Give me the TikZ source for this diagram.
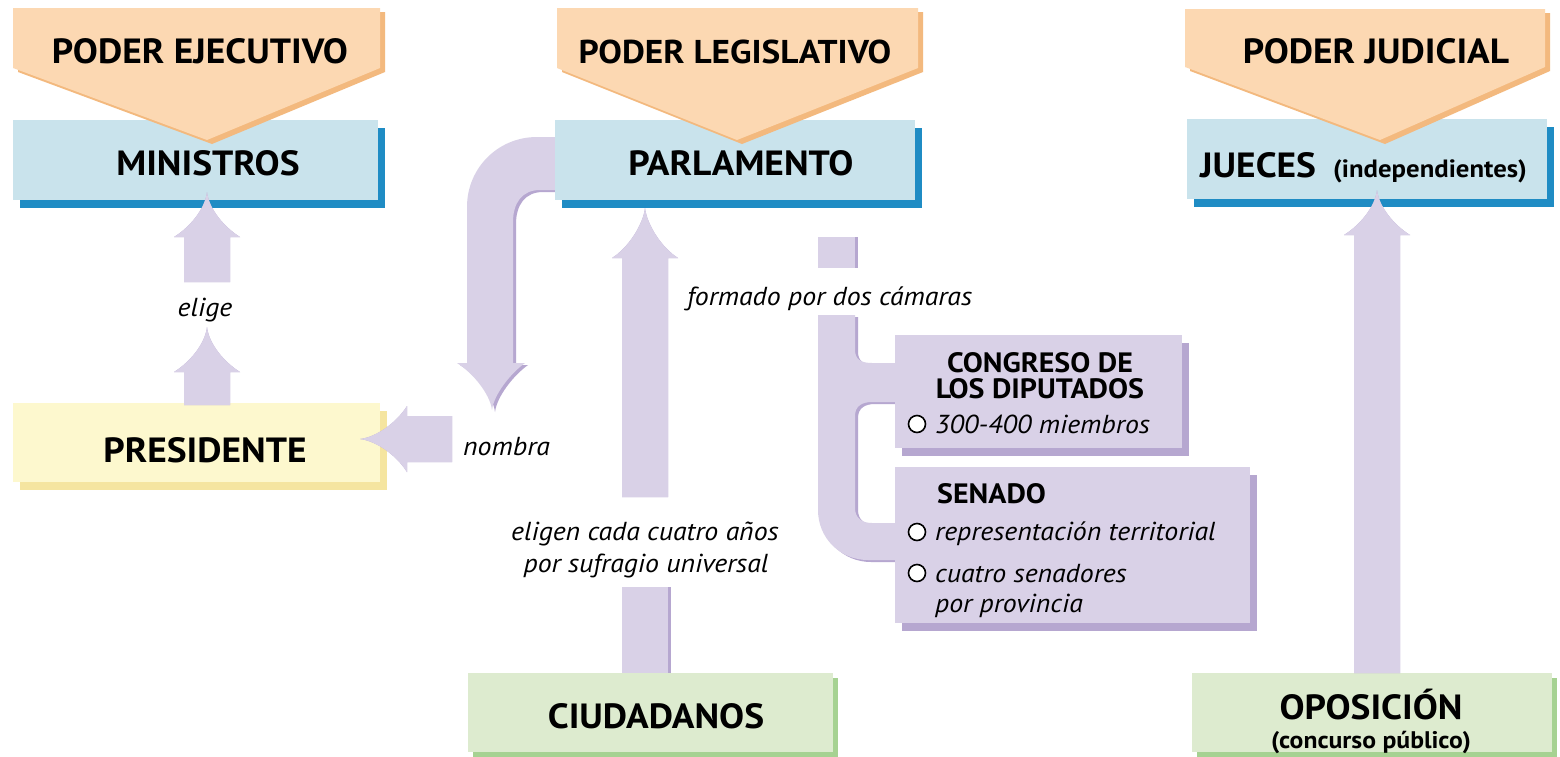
\documentclass[tikz,border=0pt]{standalone}
\usepackage{fontspec}
\setmainfont{PT Sans}
\newfontfamily\cf{PT Sans}[FakeStretch=1.07]
\newfontfamily\ci{PT Sans}[FakeStretch=1.07]
\usetikzlibrary{shadows}
\definecolor{hdrF}{HTML}{FCD8B2}
\definecolor{hdrS}{HTML}{F3B97E}
\definecolor{blueF}{HTML}{C9E3EC}
\definecolor{blueS}{HTML}{1F8CC4}
\definecolor{yelF}{HTML}{FDF8CE}
\definecolor{yelS}{HTML}{F5E5A0}
\definecolor{grnF}{HTML}{DDEBCF}
\definecolor{grnS}{HTML}{A6D292}
\definecolor{purF}{HTML}{D9D1E7}
\definecolor{purS}{HTML}{B6A7D0}
\newcommand\arrshape[2]{(-23,0) -- (-23,-#1+#2) -- (-33,-#1+#2) .. controls (-17,-#1+#2-10) and (-2,-#1+17) .. (0,-#1) .. controls (2,-#1+17) and (17,-#1+#2-10) .. (33,-#1+#2) -- (23,-#1+#2) -- (23,0) -- cycle}
\newcommand\fatarrow[3]{%
  \begin{scope}[xshift=3pt,yshift=-2pt]\begin{scope}[#1]\fill[purS] \arrshape{#2}{#3};\end{scope}\end{scope}
  \begin{scope}[#1]\fill[purF] \arrshape{#2}{#3};\end{scope}}
\begin{document}
\begin{tikzpicture}[x=1pt,y=-1pt,
  box/.style={anchor=north west, inner sep=0pt},
  bluebox/.style={box, fill=blueF, drop shadow={shadow xshift=7pt, shadow yshift=-8pt, fill=blueS, opacity=1}},
  yelbox/.style={box, fill=yelF, drop shadow={shadow xshift=7pt, shadow yshift=-8pt, fill=yelS, opacity=1}},
  grnbox/.style={box, fill=grnF, drop shadow={shadow xshift=5pt, shadow yshift=-5pt, fill=grnS, opacity=1}},
  purbox/.style={box, fill=purF, drop shadow={shadow xshift=7pt, shadow yshift=-8pt, fill=purS, opacity=1}},
  hdr/.style={fill=hdrF},
  hdrsh/.style={fill=hdrS},
  bigtxt/.style={anchor=base, inner sep=0pt, font=\cf\bfseries\fontsize{35}{40}\selectfont},
  midtxt/.style={anchor=base, inner sep=0pt, font=\cf\bfseries\fontsize{28}{30}\selectfont},
  smalltxt/.style={anchor=base, inner sep=0pt, font=\cf\bfseries\fontsize{25}{28}\selectfont},
  itxt/.style={anchor=base, inner sep=0pt, font=\ci\itshape\fontsize{26}{30}\selectfont},
  bullet/.style={draw=black, line width=1.6pt, fill=white}
]
\useasboundingbox (0,0) rectangle (1560,756);
\fill[white] (0,0) rectangle (1560,756);

% nombra band (behind Parlamento)
\def\nombraband{(570,137) -- (537,137) .. controls (498,137) and (467,168) .. (467,207) -- (467,363) -- (457,363) .. controls (473,373) and (490,394) .. (492,410) .. controls (494,394) and (511,373) .. (525,363) -- (513,363) -- (513,222) .. controls (513,203) and (522,190) .. (540,190) -- (570,190) -- cycle}
\fill[purS, xshift=3pt, yshift=-2pt] \nombraband;
\fill[purF] \nombraband;

% boxes
\node[bluebox, minimum width=365pt, minimum height=80pt] (min) at (13,120) {};
\node[bluebox, minimum width=360pt, minimum height=80pt] (par) at (555,120) {};
\node[bluebox, minimum width=360pt, minimum height=80pt] (jue) at (1187,119) {};
\node[yelbox, minimum width=367pt, minimum height=79pt] (pre) at (13,403) {};
\node[grnbox, minimum width=365pt, minimum height=79pt] (ciu) at (468,673) {};
\node[grnbox, minimum width=360pt, minimum height=79pt] (opo) at (1192,673) {};

% box texts
\node[bigtxt] (tmin) at (208,175) {MINISTROS};
\node[bigtxt] (tpar) at (741,175) {PARLAMENTO};
\node[bigtxt, anchor=base west] (tjue) at (1200,177) {JUECES};
\node[smalltxt, anchor=base west] (tind) at (1333,177) {(independientes)};
\node[bigtxt] (tpre) at (205,462) {PRESIDENTE};
\node[bigtxt] (tciu) at (656,728) {CIUDADANOS};
\node[bigtxt] (topo) at (1371,719) {OPOSICIÓN};
\node[smalltxt, font=\cf\bfseries\fontsize{24}{26}\selectfont] (tcon) at (1371,748) {(concurso público)};

% headers
\def\hEje{(13,8) -- (380,8) -- (380,68) -- (207,140) -- (13,68) -- cycle}
\def\hLeg{(557,8) -- (918,8) -- (918,68) -- (737,140) -- (557,68) -- cycle}
\def\hJud{(1185,9) -- (1545,9) -- (1545,67) -- (1380,140) -- (1185,67) -- cycle}
\fill[hdrsh, xshift=5pt, yshift=-4pt] \hEje;
\fill[hdr] \hEje;
\fill[hdrsh, xshift=5pt, yshift=-4pt] \hLeg;
\fill[hdr] \hLeg;
\fill[hdrsh, xshift=5pt, yshift=-4pt] \hJud;
\fill[hdr] \hJud;
\node[bigtxt] (heje) at (200,63) {PODER EJECUTIVO};
\node[bigtxt, font=\cf\bfseries\fontsize{33}{40}\selectfont] (hleg) at (735,63) {PODER LEGISLATIVO};
\node[bigtxt] (hjud) at (1376,63) {PODER JUDICIAL};

% fat arrows
\coordinate (a1) at (207,405);
\coordinate (a2) at (207,282);
\coordinate (a3) at (645,497);
\coordinate (a4) at (1377,673);
\coordinate (a5) at (452,439);
\fatarrow{shift={(a1)}}{78}{45}
\fatarrow{shift={(a2)}}{90}{45}
\fatarrow{shift={(a3)}}{289}{50}
\fatarrow{shift={(a4)}}{483}{45}
\fatarrow{shift={(a5)}, rotate=90}{92}{47}
\fill[purS] (625,587) rectangle (671,673);
\fill[purF] (622,587) rectangle (668,673);

% formado por dos camaras bar
\def\camband{(818,315) -- (855,315) -- (855,350) .. controls (855,360) and (862,363) .. (872,363) -- (900,363) -- (900,402) -- (872,402) .. controls (862,402) and (855,406) .. (855,416) -- (855,508) .. controls (855,518) and (862,523) .. (872,523) -- (900,523) -- (900,560) -- (868,560) .. controls (840,560) and (818,538) .. (818,510) -- cycle}
\fill[purS] (821,237) rectangle (858,268);
\fill[purF] (818,237) rectangle (855,268);
\fill[purS, xshift=3pt, yshift=-2pt] \camband;
\fill[purF] \camband;

\node[purbox, minimum width=287pt, minimum height=113pt] (cong) at (895,335) {};
\node[purbox, minimum width=355pt, minimum height=156pt] (sen) at (895,467) {};

\node[midtxt] (tc1) at (1040,372) {CONGRESO DE};
\node[midtxt] (tc2) at (1040,398) {LOS DIPUTADOS};
\draw[bullet] (917,424) circle[radius=8.5pt];
\node[itxt, anchor=base west] (tc3) at (935,433) {300-400 miembros};
\node[midtxt, anchor=base west] (ts1) at (937,503) {SENADO};
\draw[bullet] (917,532) circle[radius=8.5pt];
\node[itxt, anchor=base west] (ts2) at (935,540) {representación territorial};
\draw[bullet] (917,573) circle[radius=8.5pt];
\node[itxt, anchor=base west] (ts3) at (935,582) {cuatro senadores};
\node[itxt, anchor=base west] (ts4) at (935,612) {por provincia};

% italic labels
\node[itxt] (lelige) at (205,316) {elige};
\node[itxt, anchor=base west] (lnom) at (463,455) {nombra};
\node[itxt, anchor=base west] (lform) at (687,305) {formado por dos cámaras};
\node[itxt] (lel1) at (645,540) {eligen cada cuatro años};
\node[itxt] (lel2) at (646,572) {por sufragio universal};
\end{tikzpicture}
\end{document}
